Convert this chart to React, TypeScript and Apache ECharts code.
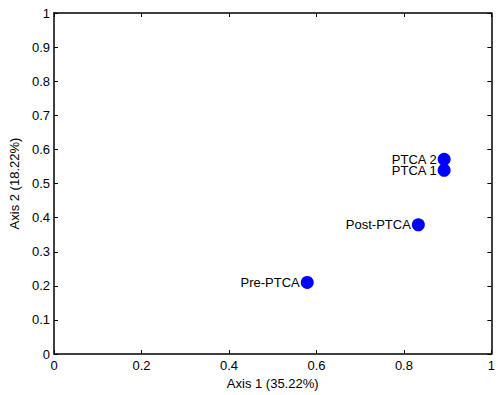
import React, { useEffect, useRef } from "react";
import * as echarts from "echarts";

const labels = ["PTCA 2", "PTCA 1", "Post-PTCA", "Pre-PTCA"];
const xValues = [0.892, 0.892, 0.833, 0.579];
const yValues = [0.571, 0.539, 0.379, 0.21];

export default function App() {
  const ref = useRef<HTMLDivElement>(null);
  useEffect(() => {
    document.body.style.margin = "0";
    document.body.style.overflow = "hidden";
    const chart = echarts.init(ref.current!, null, { renderer: "svg" });
    const font = "Liberation Sans, Arial, sans-serif";
    const baseAxis = {
      min: 0,
      max: 1,
      splitLine: { show: false },
      axisLine: { show: true, onZero: false, lineStyle: { color: "#000", width: 1.5 } },
      axisTick: { show: true, inside: true, length: 4, lineStyle: { color: "#000", width: 1 } },
    };
    chart.setOption({
      animation: false,
      backgroundColor: "#fff",
      grid: { left: 54, right: 2, top: 13, bottom: 34, containLabel: false },
      xAxis: [
        {
          ...baseAxis,
          type: "value",
          interval: 0.2,
          position: "bottom",
          name: "Axis 1 (35.22%)",
          nameLocation: "middle",
          nameGap: 17,
          nameTextStyle: { fontFamily: font, fontSize: 13, color: "#000" },
          axisLabel: { fontFamily: font, fontSize: 13, color: "#000", margin: 5, showMaxLabel: true, showMinLabel: true },
        },
        {
          ...baseAxis,
          type: "value",
          interval: 0.2,
          position: "top",
          axisLabel: { show: false },
        },
      ],
      yAxis: [
        {
          ...baseAxis,
          type: "value",
          interval: 0.1,
          position: "left",
          name: "Axis 2 (18.22%)",
          nameLocation: "middle",
          nameGap: 25,
          nameTextStyle: { fontFamily: font, fontSize: 13, color: "#000" },
          axisLabel: { fontFamily: font, fontSize: 13, color: "#000", margin: 4, showMaxLabel: true, showMinLabel: true },
        },
        {
          ...baseAxis,
          type: "value",
          interval: 0.1,
          position: "right",
          axisLabel: { show: false },
        },
      ],
      series: [
        {
          type: "scatter",
          xAxisIndex: 0,
          yAxisIndex: 0,
          symbol: "circle",
          symbolSize: 13,
          itemStyle: { color: "#0000ff", opacity: 1 },
          data: labels.map((n, i) => ({
            name: n,
            value: [xValues[i], yValues[i]],
            label: i === 0 ? { offset: [0, -2] } : i === 1 ? { offset: [0, 1] } : {},
          })),
          label: {
            show: true,
            position: "left",
            distance: 1,
            formatter: (p: any) => p.name,
            fontFamily: font,
            fontSize: 13,
            lineHeight: 10,
            color: "#000",
          },
          labelLayout: { hideOverlap: false },
        },
      ],
    });
    return () => chart.dispose();
  }, []);
  return (
    <div
      ref={ref}
      style={{ position: "fixed", left: 0, top: 0, width: 498, height: 395 }}
    />
  );
}
